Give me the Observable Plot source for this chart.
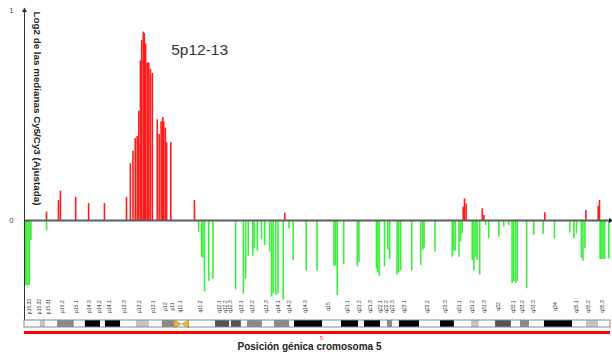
<!DOCTYPE html>
<html><head><meta charset="utf-8">
<script src="https://cdn.jsdelivr.net/npm/d3@7"></script>
<script src="https://cdn.jsdelivr.net/npm/@observablehq/plot@0.6"></script>
<style>body{margin:0;background:#fff}</style>
</head><body><div id="chart"></div>
<script>
// Gains (log2 ratio > 0), position in Mb along chromosome 5
const gainPos = [6.8, 10.5, 11.1, 15.8, 19.8, 24.7, 31.5, 32.7, 33.5, 34.2, 34.8, 35.3, 35.8, 36.2, 36.7, 37.0, 37.4, 37.9, 38.4, 38.9, 39.5, 41.0, 41.6, 42.2, 42.7, 43.0, 43.5, 43.9, 45.2, 52.5, 80.4, 135.5, 135.9, 136.4, 141.4, 141.9, 160.7, 173.4, 177.2, 177.6];
const gainVal = [0.04, 0.095, 0.14, 0.11, 0.08, 0.08, 0.11, 0.27, 0.33, 0.39, 0.40, 0.52, 0.76, 0.857, 0.897, 0.89, 0.84, 0.75, 0.75, 0.72, 0.70, 0.48, 0.41, 0.47, 0.49, 0.47, 0.44, 0.37, 0.37, 0.095, 0.035, 0.063, 0.103, 0.079, 0.056, 0.024, 0.037, 0.048, 0.067, 0.095];
// Losses (log2 ratio < 0)
const lossPos = [0.2, 0.6, 1.1, 1.5, 2.0, 6.8, 53.8, 54.7, 55.1, 55.6,
  56.9, 58.2, 65.2, 67.6, 68.3, 69.1, 70.5, 71.0, 71.9, 73.2,
  74.2, 75.7, 76.3, 76.8, 77.6, 78.3, 79.9, 81.7, 83.0, 87.0,
  90.4, 95.6, 96.1, 96.6, 98.6, 102.8, 103.3, 108.7, 109.1, 109.6,
  111.2, 112.2, 112.8, 115.1, 115.6, 116.2, 119.6, 122.4, 123.0, 123.4,
  126.8, 132.1, 132.6, 133.1, 134.2, 134.7, 135.2, 138.3, 138.8, 139.3,
  139.8, 140.6, 142.4, 143.4, 146.5, 148.0, 149.6, 150.6, 151.1, 151.7,
  152.2, 155.1, 157.3, 160.2, 163.7, 168.4, 169.7, 170.5, 172.0, 172.5,
  173.1, 177.8, 178.2, 178.7, 179.2, 180.5];
const lossVal = [-0.31, -0.31, -0.31, -0.31, -0.095, -0.048, -0.056, -0.175, -0.18, -0.34,
  -0.29, -0.28, -0.33, -0.35, -0.28, -0.17, -0.17, -0.135, -0.145, -0.09,
  -0.12, -0.15, -0.365, -0.35, -0.357, -0.35, -0.38, -0.04, -0.19, -0.24,
  -0.24, -0.22, -0.215, -0.357, -0.21, -0.22, -0.2, -0.23, -0.25, -0.265,
  -0.22, -0.14, -0.185, -0.26, -0.25, -0.24, -0.24, -0.214, -0.143, -0.135,
  -0.15, -0.175, -0.146, -0.146, -0.175, -0.103, -0.063, -0.19, -0.24, -0.175,
  -0.19, -0.26, -0.024, -0.087, -0.08, -0.03, -0.024, -0.30, -0.29, -0.30,
  -0.29, -0.325, -0.07, -0.065, -0.087, -0.06, -0.087, -0.064, -0.18, -0.194,
  -0.135, -0.186, -0.186, -0.186, -0.186, -0.183];

// Ideogram bands
const bandStart = [0, 4.9, 6.5, 10.2, 15.4, 18.8, 23.5, 25.0, 29.7, 34.6, 38.6, 42.6, 50.7, 59.0, 63.4, 63.9, 67.0, 68.9, 73.5, 77.2, 81.9, 83.4, 92.1, 97.9, 103.2, 105.0, 110.0, 112.1, 113.7, 115.8, 122.0, 128.5, 132.8, 138.1, 140.5, 145.5, 150.4, 153.2, 156.0, 160.6, 169.3, 173.6, 177.3];
const bandEnd   = [4.9, 6.5, 10.2, 15.4, 18.8, 23.5, 25.0, 29.7, 34.6, 38.6, 42.6, 46.3, 59.0, 63.4, 63.9, 67.0, 68.9, 73.5, 77.2, 81.9, 83.4, 92.1, 97.9, 103.2, 105.0, 110.0, 112.1, 113.7, 115.8, 122.0, 128.5, 132.8, 138.1, 140.5, 145.5, 150.4, 153.2, 156.0, 160.6, 169.3, 173.6, 177.3, 181.0];
const bandStain = ["gneg","gpos25","gneg","gpos50","gneg","gpos100","gneg","gpos100","gneg","gpos25","gneg","gpos50","gneg","gpos75","gneg","gpos75","gneg","gpos50","gneg","gpos50","gneg","gpos100","gneg","gpos100","gneg","gpos100","gneg","gpos50","gneg","gpos100","gneg","gpos100","gneg","gpos25","gneg","gpos75","gneg","gpos50","gneg","gpos100","gneg","gpos25","gneg"];
const centromerePos = [47.0, 50.0];
const centromereDir = [90, -90];

// Band labels
const bandNames = ["p15.33","p15.32","p15.31","p15.2","p15.1","p14.3","p14.2","p14.1","p13.3","p13.2","p13.1","p12","p11","q11.1","q11.2","q12.1","q12.2","q12.3","q13.1","q13.2","q13.3","q14.1","q14.2","q14.3","q15","q21.1","q21.2","q21.3","q22.1","q22.2","q22.3","q23.1","q23.2","q23.3","q31.1","q31.2","q31.3","q32","q33.1","q33.2","q33.3","q34","q35.1","q35.2","q35.3"];
const labelPos = [1.9, 5.2, 8.0, 12.1, 16.5, 20.4, 23.7, 26.8, 31.5, 36.0, 40.2, 44.1, 46.3, 48.8, 54.9, 60.8, 62.4, 64.2, 67.6, 70.8, 75.3, 78.9, 82.2, 87.3, 94.5, 100.2, 103.8, 107.4, 110.5, 112.2, 114.1, 117.7, 124.9, 130.6, 134.9, 138.8, 142.4, 147.0, 151.4, 154.4, 157.8, 164.6, 170.9, 174.8, 178.9];

const yTicks = [0, 1];
const annotText = ["5p12-13"];
const annotPos = [54.1];
const annotVal = [0.81];
const chromLength = 181;

const stainColor = {gneg: "#ffffff", gpos25: "#c4c4c4", gpos50: "#8a8a8a", gpos75: "#555555", gpos100: "#000000"};

const gains = gainPos.map((x, i) => ({x, v: gainVal[i]}));
const losses = lossPos.map((x, i) => ({x, v: lossVal[i]}));
const bands = bandStart.map((s, i) => ({start: s, end: bandEnd[i], stain: bandStain[i]}));
const labels = bandNames.map((n, i) => ({name: n, x: labelPos[i]}));
const cen = centromerePos.map((x, i) => ({x, r: centromereDir[i]}));
const annots = annotText.map((t, i) => ({t, x: annotPos[i], y: annotVal[i]}));

const chart = Plot.plot({
  width: 612, height: 359,
  marginLeft: 24, marginRight: 2, marginTop: 0, marginBottom: 0,
  style: {fontFamily: "'Liberation Sans', Arial, sans-serif", background: "#fff"},
  x: {domain: [0, chromLength], axis: null},
  y: {domain: [0, 1], range: [220, 10], axis: null},
  color: {type: "identity"},
  marks: [
    Plot.ruleX(gains, {x: "x", y1: 0, y2: "v", stroke: "#ff1a1a", strokeWidth: 1.6}),
    Plot.ruleX(losses, {x: "x", y1: 0, y2: "v", stroke: "#3ded3d", strokeWidth: 1.6}),
    Plot.ruleY([0], {stroke: "#5e5e5e", strokeWidth: 2}),
    Plot.ruleX([0], {stroke: "#333", strokeWidth: 1, insetTop: 9, insetBottom: 32}),
    Plot.dot([1], {x: 0, y: d => d, symbol: "triangle", r: 1.9, fill: "#333", stroke: "none"}),
    Plot.dot([0], {x: chromLength, y: d => d, symbol: "triangle", rotate: 90, r: 1.9, fill: "#222", stroke: "none"}),
    Plot.axisY({ticks: yTicks, tickFormat: d3.format("d"), tickSize: 0, tickPadding: 11, fontSize: 7, label: null, anchor: "left", fill: "#333"}),
    Plot.text(["Log2 de las medianas Cy5/Cy3 (Ajustada)"], {frameAnchor: "top-left", textAnchor: "middle", lineAnchor: "middle", dx: 12.5, dy: 108, rotate: 90, fontSize: 9.8, fontWeight: "bold", fill: "#222"}),
    Plot.text(annots, {x: "x", y: "y", text: "t", fontSize: 15.5, fill: "#333"}),
    // band labels
    Plot.text(labels, {x: "x", text: "name", frameAnchor: "bottom", dy: -53, rotate: -90, fontSize: 5, fill: "#333"}),
    // ideogram
    Plot.barX(bands, {x1: "start", x2: "end", fill: d => stainColor[d.stain], insetTop: 320, insetBottom: 32}),
    Plot.barX([{a: 0, b: chromLength}], {x1: "a", x2: "b", fill: "none", stroke: "#8a8a8a", strokeWidth: 1, insetTop: 320, insetBottom: 32}),
    Plot.dot(cen, {x: "x", frameAnchor: "bottom", dy: -35.5, symbol: "triangle", rotate: "r", r: 2.8, fill: "#e8b830", stroke: "#9a7a20", strokeWidth: 0.6}),
    Plot.barX([{a: 0, b: chromLength}], {x1: "a", x2: "b", fill: "#ff0000", insetTop: 331, insetBottom: 25}),
    Plot.text(["5"], {frameAnchor: "bottom", dy: -20, dx: 4, fontSize: 6, fill: "#ff3333"}),
    Plot.text(["Posición génica cromosoma 5"], {frameAnchor: "bottom", dy: -10, dx: -8, fontSize: 10, fontWeight: "bold", fill: "#222"})
  ]
});
document.getElementById("chart").appendChild(chart);
</script>
</body></html>
